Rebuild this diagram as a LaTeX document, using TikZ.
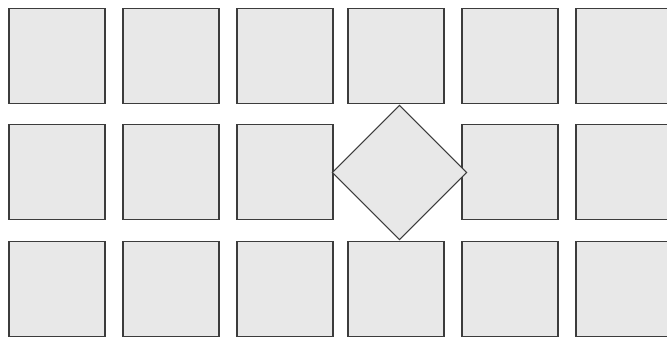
\documentclass[tikz,border=0pt]{standalone}
\begin{document}
\begin{tikzpicture}[x=1pt,y=-1pt,
  tile/.style={draw=edgegray,fill=tilegray,line width=1.1pt,minimum width=96pt,minimum height=95pt,inner sep=0pt,outer sep=0pt,anchor=north west},
  gem/.style={draw=edgegray,fill=tilegray,line width=1.1pt,minimum width=95pt,minimum height=95pt,inner sep=0pt,outer sep=0pt,rotate=45}]
\definecolor{tilegray}{HTML}{E8E8E8}
\definecolor{edgegray}{HTML}{3C3C3C}
\useasboundingbox (0,0) rectangle (667,337);
\clip (0,0) rectangle (667,337);
\foreach \c/\x in {1/9,2/123,3/237,4/348,5/462,6/576}{
  \node[tile] (r1c\c) at (\x,8.5) {};
  \node[tile] (r3c\c) at (\x,241.5) {};
}
\foreach \c/\x in {1/9,2/123,3/237,5/462,6/576}{
  \node[tile] (r2c\c) at (\x,124.5) {};
}
\node[gem] (d) at (399.5,172.5) {};
\end{tikzpicture}
\end{document}
